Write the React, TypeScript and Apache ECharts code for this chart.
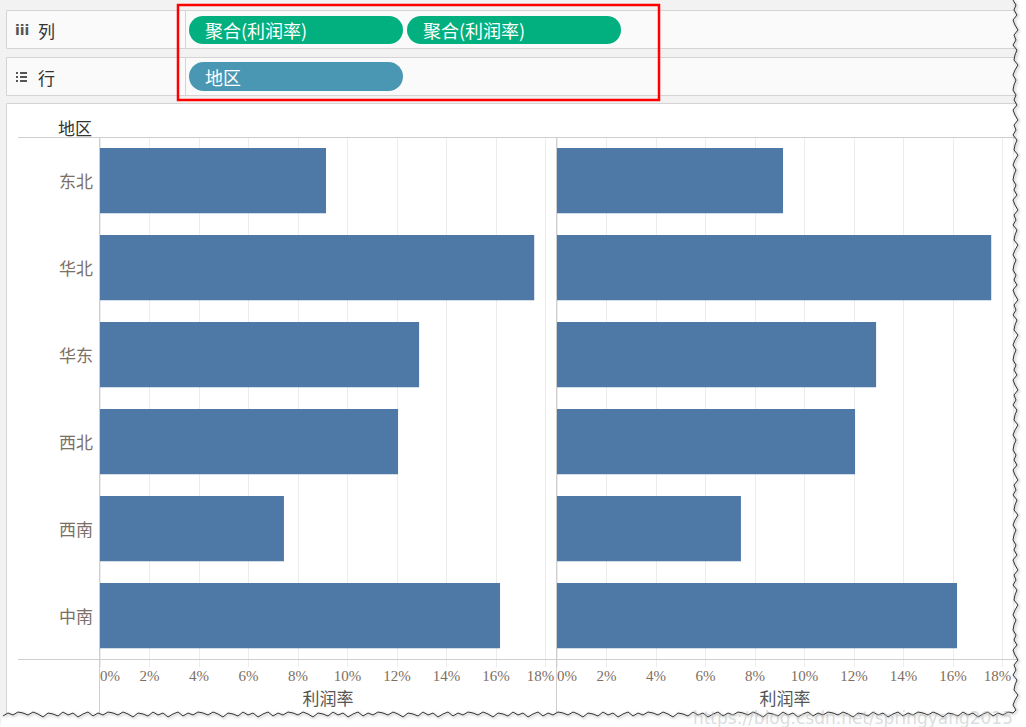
import React, { useEffect, useRef } from "react";
import * as echarts from "echarts";

const regions = ["东北", "华北", "华东", "西北", "西南", "中南"];
const profitRateA = [9.13, 17.54, 12.89, 12.04, 7.43, 16.16];
const profitRateB = [9.13, 17.54, 12.89, 12.04, 7.43, 16.16];
const columnPills = ["聚合(利润率)", "聚合(利润率)"];
const rowPills = ["地区"];
const axisTitle = "利润率";
const rowHeader = "地区";
const tornOffsets = [0, 3, 1, 4, 0, 2, 5, 1, 3, 0, 4, 2, 1, 5, 2, 0, 3, 1];

const CJK = '"Noto Sans CJK SC", "Noto Sans", sans-serif';
const SERIF = '"Liberation Serif", "DejaVu Serif", serif';

function buildTorn() {
  const right: number[][] = [];
  let i = 0;
  for (let y = 0; y <= 714; y += 5) {
    right.push([1013 + tornOffsets[i % tornOffsets.length], y]);
    i++;
  }
  const bottom: number[][] = [];
  for (let x = 1013; x >= 0; x -= 5) {
    bottom.push([x, 712 + tornOffsets[i % tornOffsets.length]]);
    i++;
  }
  return right.concat(bottom);
}

export default function App() {
  const ref = useRef<HTMLDivElement>(null);
  useEffect(() => {
    const chart = echarts.init(ref.current!, null, { renderer: "svg" });
    const torn = buildTorn();
    const xAxisCommon = (gridIndex: number) => ({
      type: "value" as const,
      gridIndex,
      min: 0,
      max: 18.42,
      interval: 2,
      axisLine: { show: false },
      axisTick: { show: true, length: 8, lineStyle: { color: "#ececec" } },
      splitLine: { show: true, lineStyle: { color: "#ececec", width: 1 } },
      axisLabel: {
        formatter: (v: number) => (v === 18 ? "{e|" + v + "%}" : v + "%"),
        showMaxLabel: false,
        alignMinLabel: "left",
        margin: 9,
        fontSize: 15,
        fontFamily: SERIF,
        color: "#7d6e62",
        rich: {
          e: { fontSize: 15, fontFamily: SERIF, color: "#7d6e62", padding: [0, 10, 0, 0] },
        },
      },
      name: axisTitle,
      nameLocation: "middle" as const,
      nameGap: 30,
      nameTextStyle: { fontSize: 17, fontFamily: CJK, color: "#555555" },
    });
    const yAxisCommon = (gridIndex: number, showLabel: boolean) => ({
      type: "category" as const,
      gridIndex,
      data: regions,
      inverse: true,
      axisLine: { show: false },
      axisTick: { show: false },
      splitLine: { show: false },
      axisLabel: {
        show: showLabel,
        margin: 7,
        fontSize: 17,
        fontFamily: CJK,
        color: "#7b6f66",
      },
    });
    const graphics: any[] = [
      { type: "rect", shape: { x: 0, y: 0, width: 1026, height: 104 }, style: { fill: "#f2f2f2" }, z: -10 },
      { type: "rect", shape: { x: 0, y: 104, width: 6, height: 623 }, style: { fill: "#f2f2f2" }, z: -10 },
      { type: "rect", shape: { x: 6.5, y: 10.5, width: 1020, height: 38 }, style: { fill: "#fafafa", stroke: "#d4d4d4", lineWidth: 1 }, z: -9 },
      { type: "rect", shape: { x: 6.5, y: 57.5, width: 1020, height: 38 }, style: { fill: "#fafafa", stroke: "#d4d4d4", lineWidth: 1 }, z: -9 },
      { type: "line", shape: { x1: 185.5, y1: 11, x2: 185.5, y2: 48 }, style: { stroke: "#d4d4d4", lineWidth: 1 }, z: -8 },
      { type: "line", shape: { x1: 185.5, y1: 58, x2: 185.5, y2: 95 }, style: { stroke: "#d4d4d4", lineWidth: 1 }, z: -8 },
      { type: "rect", shape: { x: 6.5, y: 103.5, width: 1020, height: 640 }, style: { fill: "#ffffff", stroke: "#d4d4d4", lineWidth: 1 }, z: -9 },
      { type: "text", style: { x: 15, y: 30, text: "iii", fontSize: 14, fontWeight: "bold", fontFamily: '"DejaVu Sans", sans-serif', fill: "#555", verticalAlign: "middle" }, z: 5 },
      { type: "text", style: { x: 38, y: 30, text: "列", fontSize: 17, fontFamily: CJK, fill: "#333", verticalAlign: "middle" }, z: 5 },
      { type: "rect", shape: { x: 16, y: 72, width: 2, height: 2 }, style: { fill: "#555" }, z: 5 },
      { type: "rect", shape: { x: 16, y: 76, width: 2, height: 2 }, style: { fill: "#555" }, z: 5 },
      { type: "rect", shape: { x: 16, y: 80, width: 2, height: 2 }, style: { fill: "#555" }, z: 5 },
      { type: "rect", shape: { x: 20, y: 72, width: 7, height: 2 }, style: { fill: "#555" }, z: 5 },
      { type: "rect", shape: { x: 20, y: 76, width: 7, height: 2 }, style: { fill: "#555" }, z: 5 },
      { type: "rect", shape: { x: 20, y: 80, width: 7, height: 2 }, style: { fill: "#555" }, z: 5 },
      { type: "text", style: { x: 38, y: 77, text: "行", fontSize: 17, fontFamily: CJK, fill: "#333", verticalAlign: "middle" }, z: 5 },
      { type: "text", style: { x: 58, y: 127, text: rowHeader, fontSize: 17, fontFamily: CJK, fill: "#333", verticalAlign: "middle" }, z: 5 },
      { type: "line", shape: { x1: 18, y1: 137.5, x2: 1026, y2: 137.5 }, style: { stroke: "#cfcfcf", lineWidth: 1 }, z: 5 },
      { type: "line", shape: { x1: 18, y1: 659.5, x2: 1026, y2: 659.5 }, style: { stroke: "#cfcfcf", lineWidth: 1 }, z: 5 },
      { type: "line", shape: { x1: 99.5, y1: 137, x2: 99.5, y2: 727 }, style: { stroke: "#cfcfcf", lineWidth: 1 }, z: 5 },
      { type: "line", shape: { x1: 556.5, y1: 137, x2: 556.5, y2: 727 }, style: { stroke: "#cfcfcf", lineWidth: 1 }, z: 5 },
      { type: "rect", shape: { x: 178, y: 5, width: 481, height: 95 }, style: { fill: "none", stroke: "#ff0000", lineWidth: 2.5 }, z: 20 },
    ];
    columnPills.forEach((t, i) => {
      const x = 189 + i * 218;
      graphics.push({ type: "rect", shape: { x, y: 16, width: 214, height: 28, r: 14 }, style: { fill: "#02b07f" }, z: 6 });
      graphics.push({ type: "text", style: { x: x + 16, y: 30, text: t, fontSize: 18, fontFamily: CJK, fill: "#ffffff", verticalAlign: "middle" }, z: 7 });
    });
    rowPills.forEach((t, i) => {
      const x = 189 + i * 218;
      graphics.push({ type: "rect", shape: { x, y: 62, width: 214, height: 29, r: 14.5 }, style: { fill: "#4a97b3" }, z: 6 });
      graphics.push({ type: "text", style: { x: x + 16, y: 77, text: t, fontSize: 18, fontFamily: CJK, fill: "#ffffff", verticalAlign: "middle" }, z: 7 });
    });
    graphics.push({
      type: "polygon",
      shape: { points: [[1026, 0]].concat(torn).concat([[0, 727], [1026, 727]]) },
      style: { fill: "#ffffff" },
      z: 50,
    });
    graphics.push({
      type: "polyline",
      shape: { points: torn },
      style: { stroke: "#333333", lineWidth: 1, fill: "none", shadowBlur: 3, shadowColor: "rgba(0,0,0,0.45)", shadowOffsetX: 1, shadowOffsetY: 1 },
      z: 51,
    });
    graphics.push({
      type: "text",
      style: { x: 1013, y: 718, text: "https://blog.csdn.net/springyang2015", fontSize: 17, fontFamily: '"DejaVu Sans", sans-serif', fill: "rgba(185,185,185,0.5)", align: "right", verticalAlign: "middle" },
      z: 52,
    });

    chart.setOption({
      animation: false,
      backgroundColor: "#ffffff",
      grid: [
        { left: 100, top: 137, width: 456, height: 522, containLabel: false },
        { left: 557, top: 137, width: 456, height: 522, containLabel: false },
      ],
      xAxis: [xAxisCommon(0), xAxisCommon(1)],
      yAxis: [yAxisCommon(0, true), yAxisCommon(1, false)],
      series: [
        { type: "bar", xAxisIndex: 0, yAxisIndex: 0, data: profitRateA, barCategoryGap: "25%", itemStyle: { color: "#4e79a7" }, z: 3 },
        { type: "bar", xAxisIndex: 1, yAxisIndex: 1, data: profitRateB, barCategoryGap: "25%", itemStyle: { color: "#4e79a7" }, z: 3 },
      ],
      graphic: graphics,
    });
    return () => chart.dispose();
  }, []);
  return <div ref={ref} style={{ position: "absolute", left: 0, top: 0, width: 1026, height: 727 }} />;
}
